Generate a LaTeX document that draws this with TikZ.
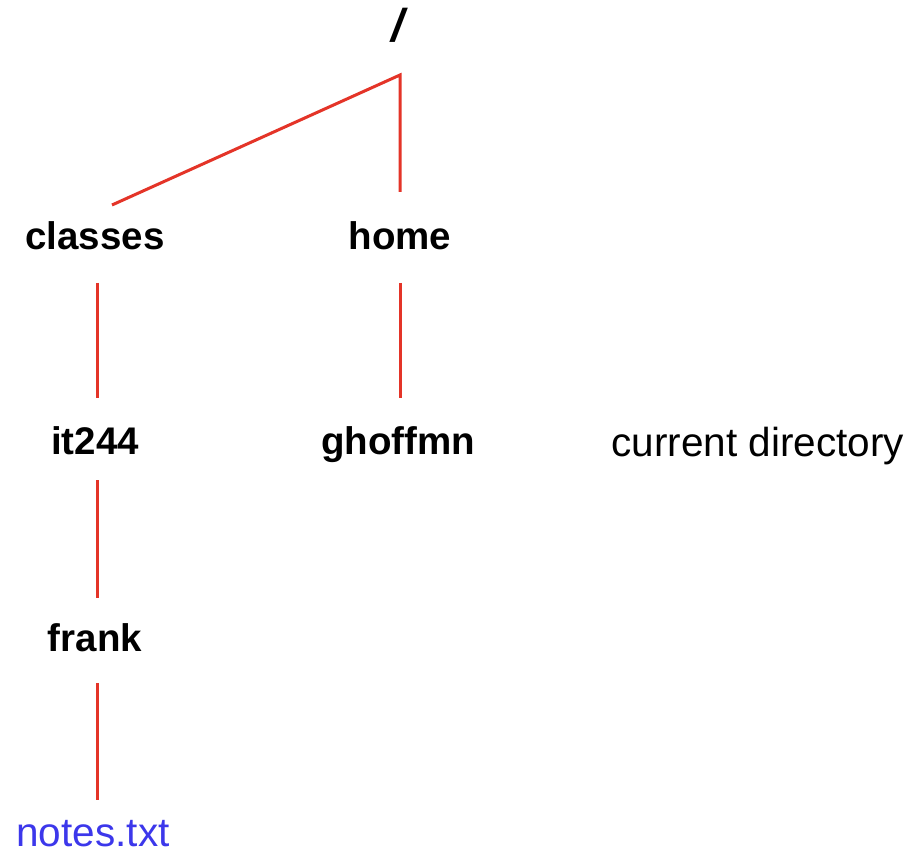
\documentclass[tikz,border=0pt]{standalone}
\usepackage{fontspec}
\setmainfont{Liberation Sans}
\definecolor{linkred}{RGB}{228,52,40}
\definecolor{fileblue}{RGB}{60,55,235}
\begin{document}
\begin{tikzpicture}[x=1pt,y=1pt,
  link/.style={draw=linkred,line width=3pt},
  dir/.style={anchor=base,inner sep=0pt,font=\fontsize{38.5}{40}\selectfont\bfseries},
  plain/.style={anchor=base,inner sep=0pt,font=\fontsize{40.5}{42}\selectfont}]
\useasboundingbox (0,0) rectangle (920,-858);
\fill[white] (0,0) rectangle (920,-858);
% nodes
\node[dir,font=\fontsize{46}{48}\selectfont\bfseries\itshape] (root) at (398,-42) {/};
\node[dir] (classes) at (95,-250) {classes};
\node[dir] (home) at (400,-250) {home};
\node[dir] (it244) at (95,-454) {it244};
\node[dir] (ghoffmn) at (398,-454) {ghoffmn};
\node[plain] (cur) at (758,-456) {current directory};
\node[dir] (frank) at (95,-651) {frank};
\node[plain,text=fileblue] (notes) at (93,-846) {notes.txt};
% connector ends
\coordinate (j) at (400,-75);
\coordinate (cltop) at (112,-205);
\coordinate (hotop) at (400,-192);
\coordinate (clbot) at (97,-283);
\coordinate (ittop) at (97,-398);
\coordinate (hobot) at (400,-283);
\coordinate (ghtop) at (400,-398);
\coordinate (itbot) at (97,-480);
\coordinate (frtop) at (97,-598);
\coordinate (frbot) at (97,-683);
\coordinate (notop) at (97,-800);
% connectors
\draw[link] (cltop) -- (j) -- (hotop);
\draw[link] (clbot) -- (ittop);
\draw[link] (hobot) -- (ghtop);
\draw[link] (itbot) -- (frtop);
\draw[link] (frbot) -- (notop);
\end{tikzpicture}
\end{document}
